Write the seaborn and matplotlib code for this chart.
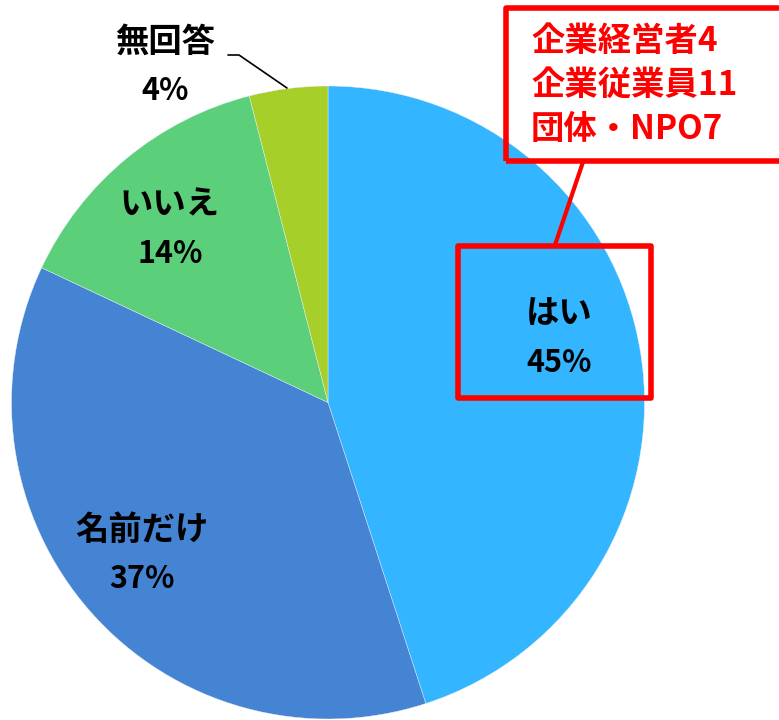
import matplotlib
matplotlib.use("Agg")
import matplotlib.pyplot as plt
import seaborn as sns
from matplotlib.patches import Rectangle

# data
labels = ["はい", "名前だけ", "いいえ", "無回答"]
shares = [45, 37, 14, 4]
colors = ["#33B5FF", "#4584D3", "#5BCF7A", "#A6CF2A"]
breakdown = ["企業経営者4", "企業従業員11", "団体・NPO7"]

sns.set_theme(style="white")
plt.rcParams['font.family'] = ['Noto Sans CJK JP', 'DejaVu Sans']

fig = plt.figure(figsize=(7.79, 7.2), dpi=100)
ax = fig.add_axes([0, 0, 1, 1])

# pie, drawn in pixel-like coords (y up)
cx, cy, r = 328, 317.5, 316.5
ax.pie(shares, colors=sns.color_palette(colors), startangle=90, counterclock=False,
       center=(cx, cy), radius=r, frame=True,
       wedgeprops=dict(linewidth=0.3, edgecolor="#e8f0f8"))
ax.set_xlim(0, 779)
ax.set_ylim(0, 720)
ax.set_aspect("equal")
ax.axis("off")

# slice labels (positions from the reference, y measured from top)
label_pos = [(559, 314), (142, 530), (170, 205), (165, 42)]
for name, pct, (x, y) in zip(labels, shares, label_pos):
    ax.text(x, 720 - y, name, ha="center", va="center", fontsize=24, fontweight="bold", color="black")
    ax.text(x, 720 - y - 49, f"{pct}%", ha="center", va="center", fontsize=22, fontweight="bold", color="black")

# leader line for 無回答
ax.plot([228, 239, 287], [720 - 55, 720 - 55, 720 - 88], color="black", lw=1.2)

# red call-out boxes
ax.add_patch(Rectangle((458, 720 - 398), 193, 152, fill=False, edgecolor="#FF0000", lw=4, joinstyle="round"))
ax.add_patch(Rectangle((506, 720 - 161), 290, 153, fill=False, edgecolor="#FF0000", lw=4,
                       joinstyle="round", clip_on=False))
ax.plot([555, 583], [720 - 245, 720 - 162], color="#FF0000", lw=3)

for i, line in enumerate(breakdown):
    ax.text(531, 720 - 41 - i * 44.5, line, ha="left", va="center", fontsize=24,
            fontweight="bold", color="#FF0000")

fig.savefig("out.png", dpi=100)
